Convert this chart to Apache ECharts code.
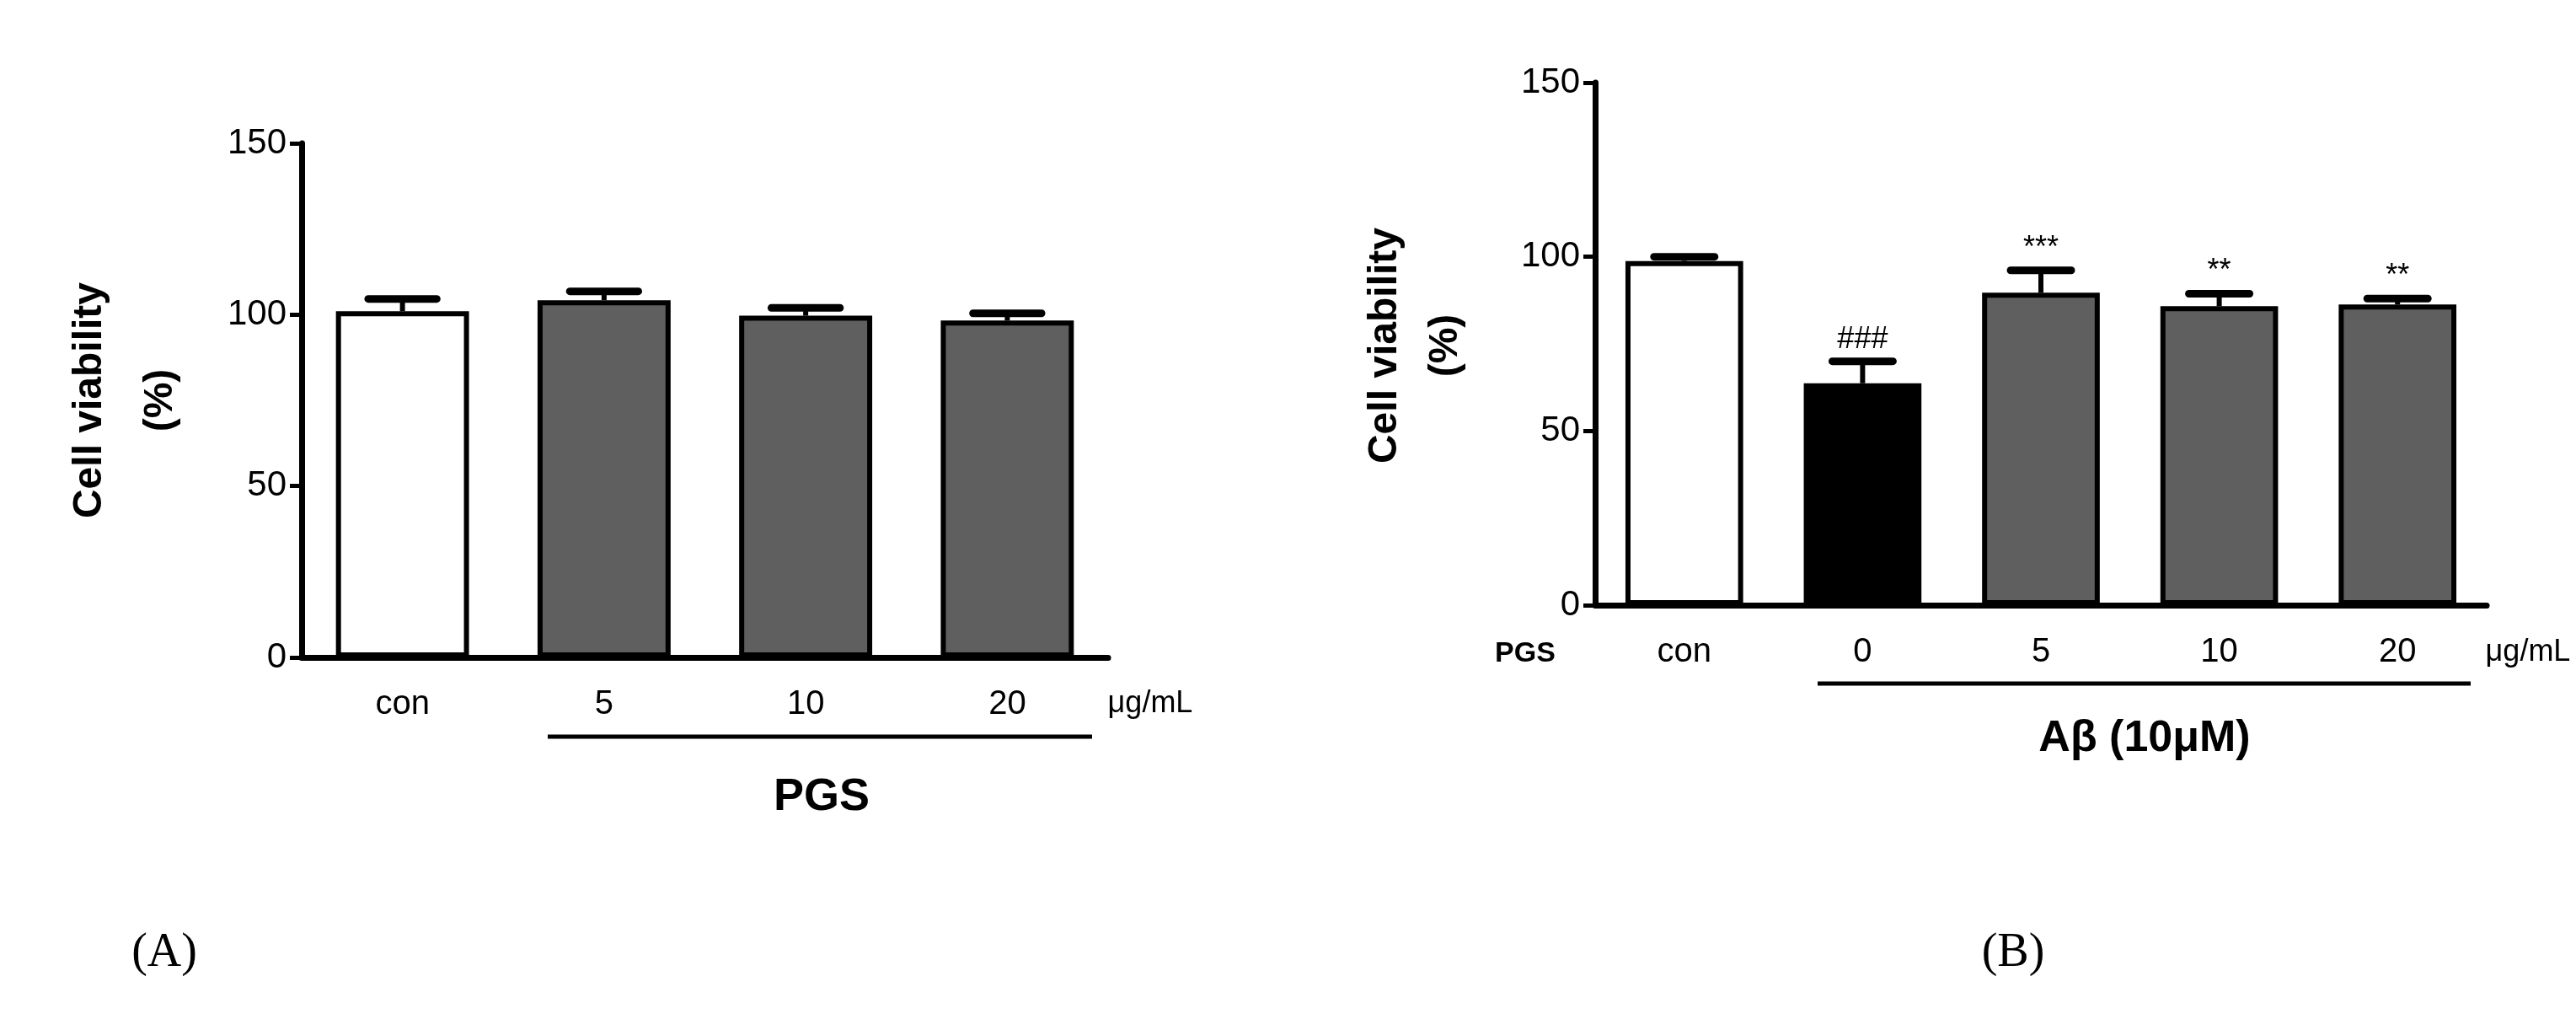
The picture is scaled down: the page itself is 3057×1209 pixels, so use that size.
<!DOCTYPE html>
<html>
<head>
<meta charset="utf-8">
<script src="https://cdn.jsdelivr.net/npm/echarts@6/dist/echarts.min.js"></script>
<style>html,body{margin:0;padding:0;background:#fff}#main{width:3057px;height:1209px}</style>
</head>
<body>
<div id="main"></div>
<script>
var catsA = ["con", "5", "10", "20"];
var valsA = [101, 104.2, 99.7, 98.3];
var errA = [3.6, 2.6, 2.3, 2.1];
var colorsA = ["#ffffff", "#5f5f5f", "#5f5f5f", "#5f5f5f"];

var catsB = ["con", "0", "5", "10", "20"];
var valsB = [98.8, 63.7, 89.7, 85.8, 86.3];
var errB = [1.2, 6.3, 6.4, 3.6, 1.7];
var marksB = ["", "###", "***", "**", "**"];
var colorsB = ["#ffffff", "#000000", "#5f5f5f", "#5f5f5f", "#5f5f5f"];

var yTicks = [0, 50, 100, 150];

var font = "'Liberation Sans Narrow', 'Liberation Sans', Arial, sans-serif";
var boldFont = "'Liberation Sans', Arial, sans-serif";

function myEcharts() {
    var e = echarts.init(document.getElementById("main"));

    function xAxis(idx, cats, margin) {
        return {
            type: "category", gridIndex: idx, data: cats,
            axisLine: {lineStyle: {color: "#000", width: 7}},
            axisTick: {alignWithLabel: true, length: 16, lineStyle: {color: "#000", width: 5}},
            axisLabel: {color: "#000", fontSize: 40, fontFamily: font, margin: margin}
        };
    }
    function yAxis(idx) {
        return {
            type: "value", gridIndex: idx, min: 0, max: 150, interval: 50,
            splitLine: {show: false},
            axisLine: {show: true, lineStyle: {color: "#000", width: 7}},
            axisTick: {show: true, length: 14, lineStyle: {color: "#000", width: 5}},
            axisLabel: {color: "#000", fontSize: 42, fontFamily: font, margin: 18}
        };
    }
    function bars(idx, vals, colors) {
        return {
            type: "bar", xAxisIndex: idx, yAxisIndex: idx, barWidth: "66%",
            data: vals.map(function (v, i) {
                return {value: v, itemStyle: {color: colors[i]}};
            }),
            itemStyle: {borderColor: "#000", borderWidth: 6},
            z: 2
        };
    }
    function errors(idx, vals, errs, marks) {
        return {
            type: "custom", xAxisIndex: idx, yAxisIndex: idx, z: 3,
            data: vals.map(function (v, i) { return [i, v, errs[i]]; }),
            renderItem: function (params, api) {
                var i = api.value(0), v = api.value(1), er = api.value(2);
                var base = api.coord([i, v]);
                var top = api.coord([i, v + er]);
                var half = api.size([1, 0])[0] * 0.17;
                var kids = [
                    {type: "line", shape: {x1: base[0], y1: base[1], x2: top[0], y2: top[1]},
                        style: {stroke: "#000", lineWidth: 6}},
                    {type: "line", shape: {x1: top[0] - half, y1: top[1], x2: top[0] + half, y2: top[1]},
                        style: {stroke: "#000", lineWidth: 9, lineCap: "round"}}
                ];
                if (marks && marks[params.dataIndex]) {
                    kids.push({type: "text", style: {
                        text: marks[params.dataIndex], x: top[0], y: top[1] - 8,
                        align: "center", verticalAlign: "bottom",
                        font: "36px " + font, fill: "#000"}});
                }
                return {type: "group", children: kids};
            }
        };
    }
    function txt(x, y, s, size, bold, rot, fam) {
        return {type: "text", x: x, y: y, rotation: rot || 0,
            style: {text: s, fontSize: size, fontWeight: bold ? "bold" : "normal",
                fontFamily: fam || font, fill: "#000", align: "center", verticalAlign: "middle"}};
    }

    var option = {
        backgroundColor: "#fff",
        animation: false,
        grid: [
            {left: 358, top: 170, width: 957, height: 610},
            {left: 1893, top: 98, width: 1058, height: 620}
        ],
        xAxis: [xAxis(0, catsA, 36), xAxis(1, catsB, 36)],
        yAxis: [yAxis(0), yAxis(1)],
        series: [
            bars(0, valsA, colorsA), errors(0, valsA, errA, null),
            bars(1, valsB, colorsB), errors(1, valsB, errB, marksB)
        ],
        graphic: [
            txt(107, 475, "Cell viability", 48, true, Math.PI / 2, boldFont),
            txt(191, 475, "(%)", 48, true, Math.PI / 2, boldFont),
            txt(1365, 835, "μg/mL", 36),
            {type: "line", shape: {x1: 650, y1: 874, x2: 1296, y2: 874}, style: {stroke: "#000", lineWidth: 5}},
            txt(975, 946, "PGS", 54, true, 0),
            txt(1644, 410, "Cell viability", 48, true, Math.PI / 2, boldFont),
            txt(1716, 410, "(%)", 48, true, Math.PI / 2, boldFont),
            txt(1810, 776, "PGS", 34, true, 0, boldFont),
            txt(3000, 774, "μg/mL", 36),
            {type: "line", shape: {x1: 2157, y1: 811, x2: 2932, y2: 811}, style: {stroke: "#000", lineWidth: 5}},
            txt(2545, 877, "Aβ (10μM)", 52, true, 0),
            txt(195, 1131, "(A)", 56, false, 0, "'Liberation Serif', serif"),
            txt(2389, 1131, "(B)", 56, false, 0, "'Liberation Serif', serif")
        ]
    };
    option.graphic[11].style.rich = {};
    e.setOption(option);
}
myEcharts();
</script>
</body>
</html>
